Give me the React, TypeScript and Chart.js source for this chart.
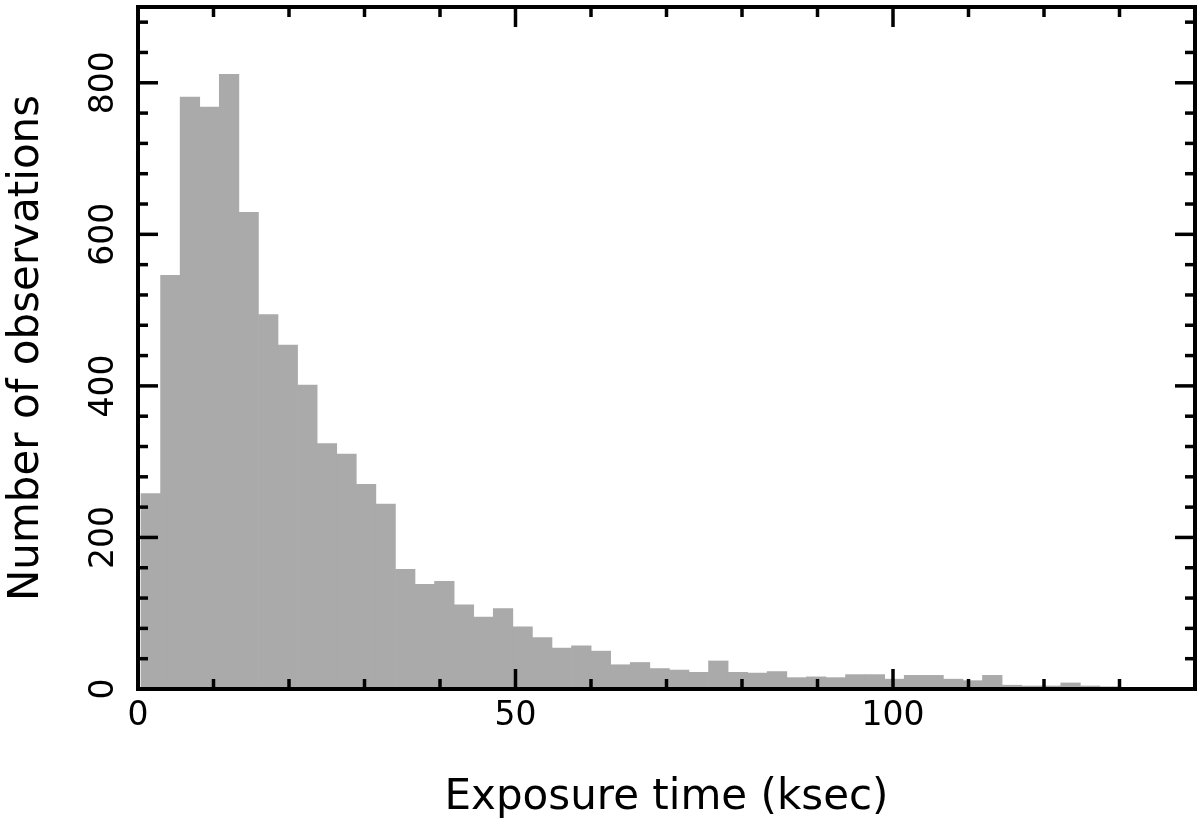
import React, { useEffect, useRef } from 'react';
import { Chart, registerables } from 'chart.js';

Chart.register(...registerables);

// Histogram: first bin edge and bin width (ksec)
const binStart = 0.4;
const binWidth = 2.592;
// Number of observations per bin
const counts = [
  258, 546, 781, 768, 811, 629, 494, 454, 401, 324,
  310, 270, 244, 158, 138, 142, 111, 95, 106, 82,
  68, 54, 57, 50, 32, 35, 27, 25, 22, 37,
  22, 21, 23, 15, 16, 15, 19, 19, 13, 18,
  18, 13, 11, 18, 5, 4, 4, 8, 4, 3,
];

const xMajorTicks = [0, 50, 100];
const xMinorTicks = [10, 20, 30, 40, 60, 70, 80, 90, 110, 120, 130];
const yMajorTicks = [0, 200, 400, 600, 800];
const yMinorTicks = [40, 80, 120, 160, 240, 280, 320, 360, 440, 480, 520, 560, 640, 680, 720, 760, 840, 880];

const xTitle = 'Exposure time (ksec)';
const yTitle = 'Number of observations';

const FONT = 'DejaVu Sans';

const framePlugin = {
  id: 'frameTicks',
  afterDatasetsDraw(chart: any) {
    const { ctx, chartArea: a, scales } = chart;
    const xs = scales.x;
    const ys = scales.y;
    ctx.save();
    ctx.strokeStyle = '#000';
    ctx.lineCap = 'butt';
    const seg = (x1: number, y1: number, x2: number, y2: number) => {
      ctx.beginPath();
      ctx.moveTo(x1, y1);
      ctx.lineTo(x2, y2);
      ctx.stroke();
    };
    ctx.lineWidth = 3.5;
    const major = 20;
    const minor = 10;
    xMajorTicks.forEach((v) => {
      const p = xs.getPixelForValue(v);
      seg(p, a.bottom, p, a.bottom - major);
      seg(p, a.top, p, a.top + major);
    });
    xMinorTicks.forEach((v) => {
      const p = xs.getPixelForValue(v);
      seg(p, a.bottom, p, a.bottom - minor);
      seg(p, a.top, p, a.top + minor);
    });
    yMajorTicks.forEach((v) => {
      const p = ys.getPixelForValue(v);
      seg(a.left, p, a.left + major, p);
      seg(a.right, p, a.right - major, p);
    });
    yMinorTicks.forEach((v) => {
      const p = ys.getPixelForValue(v);
      seg(a.left, p, a.left + minor, p);
      seg(a.right, p, a.right - minor, p);
    });
    ctx.lineWidth = 4;
    ctx.strokeRect(a.left, a.top, a.right - a.left, a.bottom - a.top);
    ctx.restore();
  },
};

export default function App() {
  const canvasRef = useRef<HTMLCanvasElement | null>(null);

  useEffect(() => {
    document.body.style.margin = '0';
    const canvas = canvasRef.current;
    if (!canvas) return;
    const data = counts.map((c, i) => ({ x: binStart + (i + 0.5) * binWidth, y: c }));
    const chart = new Chart(canvas, {
      type: 'bar',
      data: {
        datasets: [
          {
            data,
            backgroundColor: '#aaaaaa',
            borderWidth: 0,
            barPercentage: 1,
            categoryPercentage: 1,
          },
        ],
      },
      options: {
        animation: false,
        responsive: false,
        maintainAspectRatio: false,
        devicePixelRatio: 1,
        layout: { padding: { top: 7, right: 5, left: 0, bottom: 0 } },
        plugins: { legend: { display: false }, tooltip: { enabled: false } },
        scales: {
          x: {
            type: 'linear',
            min: 0,
            max: 140,
            offset: false,
            grid: { display: false, drawTicks: false },
            border: { display: false },
            afterBuildTicks: (scale: any) => {
              scale.ticks = xMajorTicks.map((v) => ({ value: v }));
            },
            afterFit: (scale: any) => {
              scale.height = 134;
              scale.paddingLeft = 0;
              scale.paddingRight = 0;
            },
            ticks: {
              color: '#000',
              font: { family: FONT, size: 33 },
              padding: 8,
              maxRotation: 0,
              minRotation: 0,
              autoSkip: false,
              callback: (v: any) => String(v),
            },
            title: {
              display: true,
              text: xTitle,
              color: '#000',
              font: { family: FONT, size: 42 },
              padding: { top: 0, bottom: 0 },
            },
          },
          y: {
            type: 'linear',
            min: 0,
            max: 900,
            grid: { display: false, drawTicks: false },
            border: { display: false },
            afterBuildTicks: (scale: any) => {
              scale.ticks = yMajorTicks.map((v) => ({ value: v }));
            },
            afterFit: (scale: any) => {
              scale.width = 138;
              scale.paddingTop = 0;
              scale.paddingBottom = 0;
            },
            ticks: {
              color: '#000',
              font: { family: FONT, size: 33 },
              padding: 2,
              minRotation: 90,
              maxRotation: 90,
              crossAlign: 'center',
              autoSkip: false,
              callback: (v: any) => String(v),
            },
            title: {
              display: true,
              text: yTitle,
              color: '#000',
              font: { family: FONT, size: 42 },
              padding: { top: 2, bottom: 0 },
            },
          },
        },
      },
      plugins: [framePlugin],
    } as any);
    return () => chart.destroy();
  }, []);

  return (
    <div style={{ position: 'fixed', left: 0, top: 0, width: 1200, height: 823, background: '#fff' }}>
      <canvas ref={canvasRef} width={1200} height={823} style={{ width: 1200, height: 823, display: 'block' }} />
    </div>
  );
}
